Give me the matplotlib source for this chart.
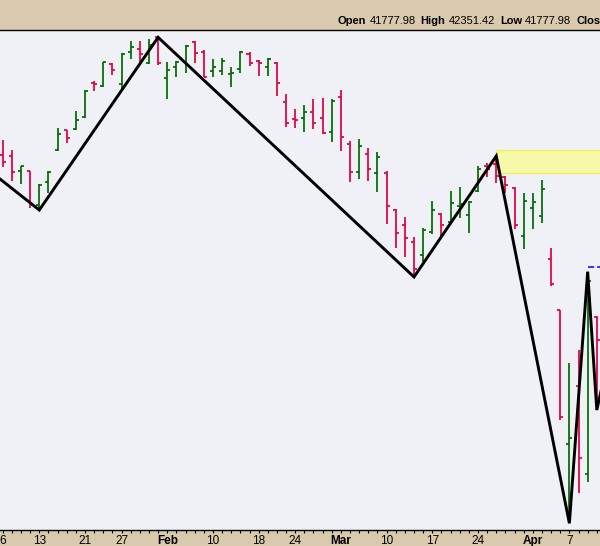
import matplotlib
matplotlib.use("Agg")
import matplotlib.pyplot as plt
from matplotlib.patches import Rectangle

# ---------------- data ----------------
dates = [
    "2025-01-06", "2025-01-07", "2025-01-08", "2025-01-10", "2025-01-13", "2025-01-14",
    "2025-01-15", "2025-01-16", "2025-01-17", "2025-01-21", "2025-01-22", "2025-01-23",
    "2025-01-24", "2025-01-27", "2025-01-28", "2025-01-29", "2025-01-30", "2025-01-31",
    "2025-02-03", "2025-02-04", "2025-02-05", "2025-02-06", "2025-02-07", "2025-02-10",
    "2025-02-11", "2025-02-12", "2025-02-13", "2025-02-14", "2025-02-18", "2025-02-19",
    "2025-02-20", "2025-02-21", "2025-02-24", "2025-02-25", "2025-02-26", "2025-02-27",
    "2025-02-28", "2025-03-03", "2025-03-04", "2025-03-05", "2025-03-06", "2025-03-07",
    "2025-03-10", "2025-03-11", "2025-03-12", "2025-03-13", "2025-03-14", "2025-03-17",
    "2025-03-18", "2025-03-19", "2025-03-20", "2025-03-21", "2025-03-24", "2025-03-25",
    "2025-03-26", "2025-03-27", "2025-03-28", "2025-03-31", "2025-04-01", "2025-04-02",
    "2025-04-03", "2025-04-04", "2025-04-07", "2025-04-08", "2025-04-09", "2025-04-10",
]
opens = [
    43004, 42992, 42732, 42726, 42141, 42546, 43091, 43444, 43456, 43665, 44266, 44203,
    44590, 44243, 44794, 44847, 44603, 45051, 44342, 44538, 44620, 44967, 44794, 44464,
    44464, 44425, 44498, 44759, 44637, 44543, 44616, 43927, 43632, 43647, 43751, 43647,
    43404, 44022, 43196, 42714, 43027, 42692, 42692, 42049, 41789, 41493, 41273, 41667,
    41980, 41846, 42124, 41962, 42384, 42824, 42853, 42622, 42442, 41603, 42084, 41950,
    41203, 40312, 37990, 38997, 37469, 40201,
]
highs = [
    43270, 43097, 42827, 42740, 42511, 42726, 43473, 43450, 43774, 44139, 44290, 44630,
    44603, 44776, 44990, 44990, 45016, 45054, 44630, 44651, 44917, 44986, 44834, 44672,
    44689, 44533, 44816, 44794, 44655, 44689, 44620, 44078, 43814, 43878, 43982, 44000,
    43977, 44139, 43248, 43282, 43126, 43062, 42732, 42067, 41938, 41585, 41736, 42211,
    41997, 42384, 42449, 42211, 42819, 42866, 42992, 42645, 42449, 42344, 42344, 42575,
    41399, 40317, 39391, 39622, 40983, 40213,
]
lows = [
    42796, 42563, 42511, 42084, 42054, 42344, 43080, 43223, 43450, 43660, 44127, 44195,
    44405, 44121, 44672, 44630, 44596, 44578, 43977, 44373, 44429, 44604, 44360, 44370,
    44399, 44186, 44429, 44550, 44387, 44387, 44043, 43491, 43487, 43414, 43456, 43374,
    43241, 43084, 42535, 42598, 42563, 42372, 41816, 41389, 41233, 40891, 41156, 41632,
    41603, 41811, 41910, 41650, 42372, 42622, 42518, 42344, 41730, 41372, 41730, 41834,
    40734, 38407, 36612, 37144, 37335, 38580,
]
closes = [
    42883, 42714, 42819, 42158, 42483, 42709, 43369, 43300, 43618, 44121, 44243, 44620,
    44486, 44764, 44886, 44761, 44929, 44603, 44483, 44625, 44903, 44776, 44370, 44533,
    44637, 44434, 44794, 44613, 44603, 44672, 44266, 43560, 43618, 43751, 43560, 43387,
    43942, 43328, 42714, 43161, 42761, 42970, 42119, 41650, 41563, 41024, 41702, 42049,
    41789, 42181, 42158, 42199, 42761, 42767, 42650, 42489, 41789, 42211, 42193, 42419,
    40764, 38459, 38089, 37741, 40826, 39796,
]

# zigzag swing line (first and last points lie outside the visible window)
zz_dates = ["2025-01-02", "2025-01-13", "2025-01-31", "2025-03-13", "2025-03-26",
            "2025-04-07", "2025-04-09", "2025-04-10", "2025-04-11"]
zz_values = [42806, 42054, 45054, 40891, 42992, 36612, 40983, 38580, 39292]

zone_start = "2025-03-26"
zone_low = 42702
zone_high = 43097

level_start = "2025-04-09"
level_value = 41059

tick_dates = ["2025-01-06", "2025-01-13", "2025-01-21", "2025-01-27", "2025-02-03",
              "2025-02-10", "2025-02-18", "2025-02-24", "2025-03-03", "2025-03-10",
              "2025-03-17", "2025-03-24", "2025-04-01", "2025-04-07"]
tick_labels = ["6", "13", "21", "27", "Feb", "10", "18", "24", "Mar", "10",
               "17", "24", "Apr", "7"]
month_labels = ["Feb", "Mar", "Apr"]

header_names = ["Open", "High", "Low", "Close"]
header_values = ["41777.98", "42351.42", "41777.98", ""]

# ---------------- layout ----------------
W, H = 600, 546
TAN = "#d9c9ad"
BG = "#f0f1f6"
GREEN = "#006a00"
RED = "#e0003c"

full_days = ["2025-01-02", "2025-01-03"] + dates + ["2025-04-11"]
def pos(d):
    return full_days.index(d) - 2

fig = plt.figure(figsize=(W / 100, H / 100), dpi=100, facecolor=TAN)
ax = fig.add_axes([0, 16 / H, 1, 500 / H])
ax.set_facecolor(BG)

x = [pos(d) for d in dates]
cols = [GREEN if c >= o else RED for o, c in zip(opens, closes)]
hw = 0.33

ax.vlines(x, lows, highs, colors=cols, lw=1.25, zorder=3)
ax.hlines(opens, [xi - hw for xi in x], x, colors=cols, lw=1.25, zorder=3)
ax.hlines(closes, x, [xi + hw for xi in x], colors=cols, lw=1.25, zorder=3)

# resistance zone
zx = pos(zone_start)
ax.add_patch(Rectangle((zx, zone_low), 20, zone_high - zone_low,
                       facecolor="#f8f8aa", edgecolor="#f2f255", lw=1.0, zorder=1))

# dashed level
lx = pos(level_start)
ax.plot([lx, lx + 5], [level_value, level_value], color="#0000ee", lw=1.1,
        dashes=(4, 2), zorder=4)

# zigzag
ax.plot([pos(d) for d in zz_dates], zz_values, color="black", lw=2.1,
        solid_joinstyle="miter", zorder=5)

ax.set_xlim(-0.3, 65.35)
ax.set_ylim(36496, 45181)

for s in ["left", "right"]:
    ax.spines[s].set_visible(False)
for s in ["top", "bottom"]:
    ax.spines[s].set_color("black")
    ax.spines[s].set_linewidth(1.0)

ax.set_yticks([])
ax.set_xticks([pos(d) for d in tick_dates])
ax.set_xticklabels(tick_labels, fontfamily="Liberation Sans", fontsize=8.5)
ax.set_xticks(x, minor=True)
ax.tick_params(axis="x", which="both", direction="out", length=2.5, width=0.8,
               pad=0.8, color="black")
for lab in ax.get_xticklabels():
    if lab.get_text() in month_labels:
        lab.set_fontweight("bold")

# header text (mixed bold / regular chained)
renderer = fig.canvas.get_renderer()
cur = 338 / W
yh = 1 - 21 / H
for name, val in zip(header_names, header_values):
    t = fig.text(cur, yh, name, fontfamily="Liberation Sans", fontsize=8.0,
                 fontweight="bold", ha="left", va="center")
    bb = t.get_window_extent(renderer)
    cur = (bb.x1 + 3) / W
    if val:
        t = fig.text(cur, yh, val, fontfamily="Liberation Sans", fontsize=8.0,
                     ha="left", va="center")
        bb = t.get_window_extent(renderer)
        cur = (bb.x1 + 5) / W

fig.savefig("out.png", dpi=100, facecolor=TAN)
